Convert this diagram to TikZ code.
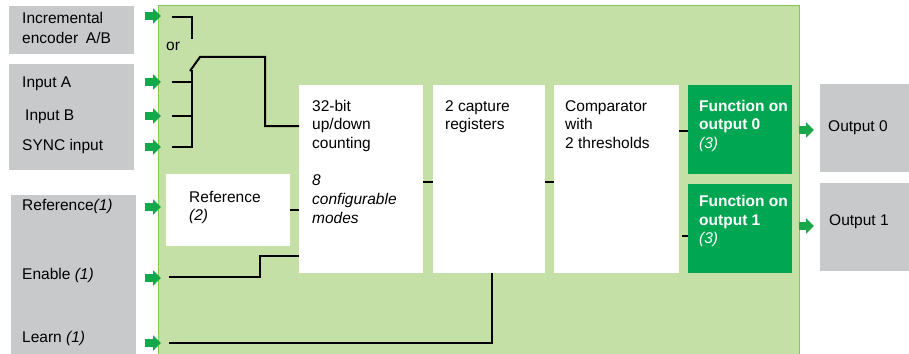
\documentclass[tikz,border=0pt]{standalone}
\usepackage{fontspec}
\setmainfont{Liberation Sans}
\usetikzlibrary{arrows.meta,calc}
\definecolor{panel}{HTML}{C5E0A6}
\definecolor{panelrim}{HTML}{86C84E}
\definecolor{slate}{HTML}{C8C9CB}
\definecolor{deepgreen}{HTML}{00A651}
\definecolor{tipgreen}{HTML}{13A94A}
\tikzset{
  txt/.style={font=\fontsize{15.5}{18.7}\selectfont,align=left,inner sep=0pt,anchor=base west},
  greybox/.style={fill=slate,draw=none,anchor=north west,inner sep=0pt},
  block/.style={fill=white,draw=none,anchor=north west,inner sep=0pt},
  fnblock/.style={fill=deepgreen,draw=none,anchor=north west,inner sep=0pt},
  wire/.style={draw=black,line width=2pt},
  inarrow/.style={draw=tipgreen,line width=8pt,-{Triangle[length=8pt,width=15pt]}}
}
\begin{document}
\begin{tikzpicture}[x=1pt,y=-1pt]
\useasboundingbox (0,0) rectangle (909,353);

% module panel
\fill[panel] (158,6) rectangle (799,370);
\draw[panelrim,line width=1pt] (158,370) -- (158,6) -- (799,6) -- (799,370);

% external boxes
\node[greybox,minimum width=125pt,minimum height=48pt] (encbox) at (9,6) {};
\node[greybox,minimum width=125pt,minimum height=106pt] (inbox) at (9,64) {};
\node[greybox,minimum width=125pt,minimum height=170pt] (ctlbox) at (11,195) {};
\node[greybox,minimum width=100pt,minimum height=88pt] (out0) at (820,84) {};
\node[greybox,minimum width=100pt,minimum height=88pt] (out1) at (820,183) {};

% internal blocks
\node[block,minimum width=124pt,minimum height=72pt] (ref) at (166,174) {};
\node[block,minimum width=124pt,minimum height=188pt] (count) at (299,85) {};
\node[block,minimum width=112pt,minimum height=188pt] (capture) at (433,85) {};
\node[block,minimum width=125pt,minimum height=188pt] (cmp) at (554,85) {};
\node[fnblock,minimum width=104pt,minimum height=89pt] (fn0) at (688,85) {};
\node[fnblock,minimum width=104pt,minimum height=89pt] (fn1) at (688,184) {};

% texts (base anchor sits on the last line)
\node[txt,font=\fontsize{15.5}{20}\selectfont] (enctxt) at (22,43.5) {Incremental\\encoder\hspace{0.5em}A/B};
\node[txt] (inatxt) at (22,87.5) {Input A};
\node[txt] (inbtxt) at (25,120.5) {Input B};
\node[txt] (synctxt) at (22,150.5) {SYNC input};
\node[txt] (reftxt) at (22,210.5) {Reference\textit{(1)}};
\node[txt] (entxt) at (22,279.5) {Enable \textit{(1)}};
\node[txt] (learntxt) at (22,342.5) {Learn \textit{(1)}};
\node[txt] (ortxt) at (166,50) {or};
\node[txt] (refblk) at (189,220.7) {Reference\\\textit{(2)}};
\node[txt] (counttxt) at (312,223.2) {32-bit\\up/down\\counting\\[18.7pt]\textit{8}\\\textit{configurable}\\\textit{modes}};
\node[txt] (capturetxt) at (445,129.7) {2 capture\\registers};
\node[txt] (cmptxt) at (565,148.4) {Comparator\\with\\2 thresholds};
\node[txt,text=white] (fn0txt) at (699,148.4) {\textbf{Function on}\\\textbf{output 0}\\\textit{(3)}};
\node[txt,text=white] (fn1txt) at (699,243.9) {\textbf{Function on}\\\textbf{output 1}\\\textit{(3)}};
\node[txt] (out0txt) at (828,131) {Output 0};
\node[txt] (out1txt) at (829,225.5) {Output 1};

% green input / output arrows
\foreach \y/\name in {16/encin,82/inain,116/inbin,147/syncin,207/refin,278/enin,343/learnin} {
  \coordinate (\name) at (161,\y);
  \draw[inarrow] (145,\y) -- (\name);
}
\coordinate (out0in) at (814,130);
\coordinate (out1in) at (814,226);
\draw[inarrow] (799,130) -- (out0in);
\draw[inarrow] (799,226) -- (out1in);

% selector wiring
\draw[wire] ($(encin)+(11,1)$) -- ++(20,0) -- ++(0,22);
\draw[wire] (190,71) -- (200,57) -- (265,57) |- ($(count.north west)+(0,41)$);
\draw[wire] (192,70) -- (192,148);
\foreach \name in {inain,inbin,syncin}
  \draw[wire] ($(\name)+(11,0)$) -- ++(20,0);

% control wiring
\draw[wire] (ref.east) -- (ref.east -| count.west);
\draw[wire] ($(enin)+(8,-1)$) -- (260,277) -- (260,256) -- (count.west |- 0,256);
\draw[wire] ($(learnin)+(8,0)$) -| ($(capture.south)+(3,0)$);

% block chain
\draw[wire] ($(count.east)+(0,3)$) -- ($(capture.west)+(0,3)$);
\draw[wire] ($(capture.east)+(0,3)$) -- ($(cmp.west)+(0,3)$);
\draw[wire] ($(fn0.west)+(0,1.5)$) -- ($(fn0.west -| cmp.east)+(0,1.5)$);
\draw[wire] ($(fn1.west)+(0,7.5)$) -- ++(-6,0);

\end{tikzpicture}
\end{document}
